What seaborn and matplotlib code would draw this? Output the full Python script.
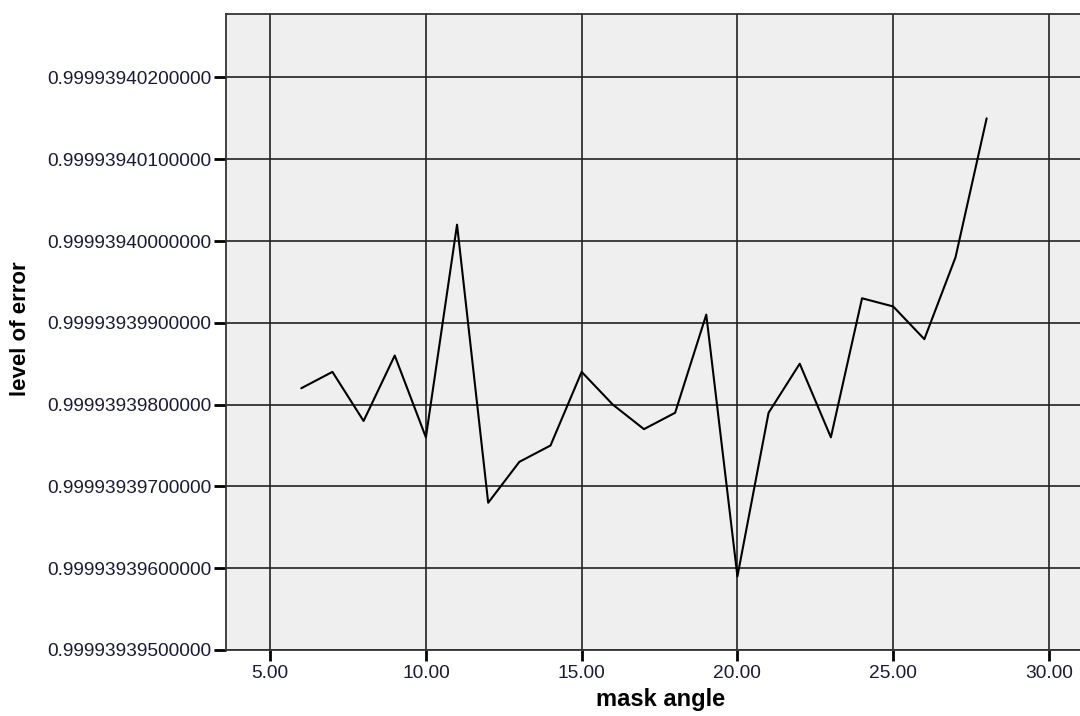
import numpy as np
import pandas as pd
import matplotlib
matplotlib.use("Agg")
import matplotlib.pyplot as plt
import seaborn as sns
from matplotlib.ticker import FormatStrFormatter

# values (level of error = base + offset * 1e-10)
mask_angle = [6, 7, 8, 9, 10, 11, 12, 13, 14, 15, 16, 17,
              18, 19, 20, 21, 22, 23, 24, 25, 26, 27, 28]
offset_e10 = [32, 34, 28, 36, 26, 52, 18, 23, 25, 34, 30, 27,
              29, 41, 9, 29, 35, 26, 43, 42, 38, 48, 65]
base = 0.999939395

y_ticks = [base + k * 1e-9 for k in range(8)]
x_ticks = [5, 10, 15, 20, 25, 30]

df = pd.DataFrame({
    "mask angle": mask_angle,
    "level of error": [base + o * 1e-10 for o in offset_e10],
})

sns.set_style("whitegrid", {
    "axes.facecolor": "#efefef",
    "grid.color": "#222222",
    "axes.edgecolor": "#333333",
})
plt.rcParams["font.family"] = ["Liberation Sans", "DejaVu Sans"]

fig = plt.figure(figsize=(10.8, 7.16), dpi=100)
ax = fig.add_axes([0.2093, 0.0922, 0.7957, 0.8882])

sns.lineplot(data=df, x="mask angle", y="level of error", ax=ax,
             color="black", linewidth=1.5)

ax.set_xlim(3.585, 31.17)
ax.set_ylim(base, base + 77.75e-10)
ax.set_xticks(x_ticks)
ax.set_yticks(y_ticks)
ax.xaxis.set_major_formatter(FormatStrFormatter("%.2f"))
ax.yaxis.set_major_formatter(FormatStrFormatter("%.14f"))

ax.grid(True, color="#222222", linewidth=1.2)
for s in ["top", "right", "left", "bottom"]:
    ax.spines[s].set_color("#333333")
    ax.spines[s].set_linewidth(1.3)

txt = "#1a1a36"
ax.tick_params(axis="y", direction="out", length=9, width=2,
               color="black", pad=1.5, labelsize=13.8, labelcolor=txt, left=True)
ax.tick_params(axis="x", direction="out", length=8, width=2,
               color="black", pad=3, labelsize=13.8, labelcolor=txt, bottom=True)

ax.set_xlabel("mask angle", fontsize=17, fontweight="bold", color="black")
ax.set_ylabel("level of error", fontsize=16, fontweight="bold", color="black")
ax.xaxis.set_label_coords(0.506, -0.060)
ax.xaxis.label.set_va("top")
ax.yaxis.set_label_coords(-0.2397, 0.506)
ax.yaxis.label.set_va("center")

fig.savefig("out.png", dpi=100)
